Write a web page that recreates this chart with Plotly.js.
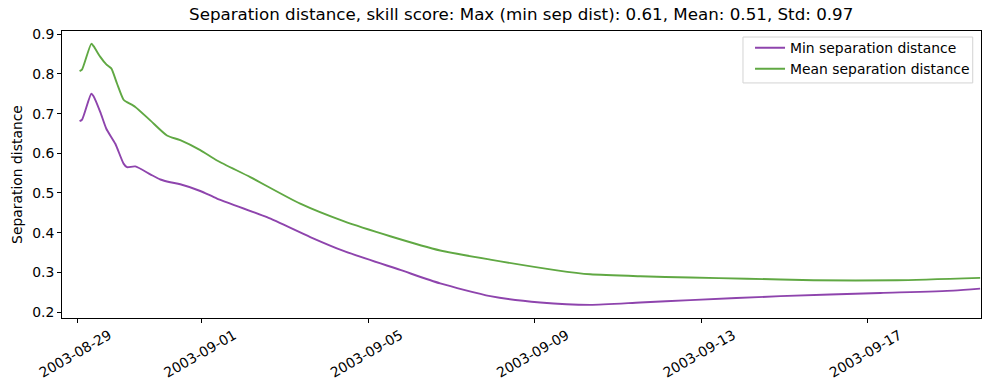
<!DOCTYPE html>
<html>
<head>
<meta charset="utf-8">
<script src="https://cdn.plot.ly/plotly-3.0.1.min.js"></script>
<style>html,body{margin:0;padding:0;background:#fff;}#chart{width:989px;height:390px;}</style>
</head>
<body>
<div id="chart"></div>
<script>
const minDates = [
  "2003-08-29 01:23","2003-08-29 02:50","2003-08-29 08:08","2003-08-29 09:27","2003-08-29 13:20",
  "2003-08-29 16:48","2003-08-29 22:00","2003-08-30 02:46","2003-08-30 04:43","2003-08-30 09:31",
  "2003-08-30 18:10","2003-08-31 00:00","2003-08-31 05:43","2003-08-31 11:28","2003-08-31 23:01",
  "2003-09-01 08:40","2003-09-02 13:30","2003-09-03 14:28","2003-09-04 09:41",
  "2003-09-05 18:24","2003-09-06 17:28","2003-09-07 22:19","2003-09-09 03:10","2003-09-10 08:01",
  "2003-09-11 12:52","2003-09-12 17:43","2003-09-14 21:45","2003-09-17 07:26","2003-09-19 01:37",
  "2003-09-19 17:00"
];
const minValues = [
  0.681,0.685,0.750,0.744,0.704,
  0.662,0.624,0.574,0.565,0.567,
  0.547,0.534,0.527,0.522,0.505,
  0.486,0.439,0.389,0.354,
  0.306,0.272,0.240,0.224,0.218,
  0.224,0.230,0.240,0.248,0.254,
  0.259
];
const meanDates = [
  "2003-08-29 01:23","2003-08-29 02:46","2003-08-29 08:08","2003-08-29 09:27","2003-08-29 13:20",
  "2003-08-29 16:48","2003-08-29 19:40","2003-08-29 22:58","2003-08-30 02:46","2003-08-30 04:43",
  "2003-08-30 09:31","2003-08-30 18:10","2003-08-31 03:48","2003-08-31 11:28","2003-08-31 23:01",
  "2003-09-01 08:40","2003-09-02 03:52","2003-09-03 08:43","2003-09-04 09:41","2003-09-05 12:37",
  "2003-09-06 17:28","2003-09-07 22:19","2003-09-09 12:49","2003-09-10 08:01","2003-09-11 12:52",
  "2003-09-12 17:43","2003-09-14 02:25","2003-09-15 16:50","2003-09-17 16:58","2003-09-19 17:00"
];
const meanValues = [
  0.807,0.811,0.876,0.870,0.843,
  0.824,0.814,0.776,0.735,0.729,
  0.717,0.683,0.645,0.633,0.608,
  0.582,0.540,0.473,0.429,0.391,
  0.355,0.332,0.305,0.295,0.290,
  0.287,0.284,0.280,0.280,0.286
];
const yTicks = [0.2,0.3,0.4,0.5,0.6,0.7,0.8,0.9];
const xTicks = ["2003-08-29","2003-09-01","2003-09-05","2003-09-09","2003-09-13","2003-09-17"];
const seriesNames = ["Min separation distance","Mean separation distance"];
const titleText = "Separation distance, skill score: Max (min sep dist): 0.61, Mean: 0.51, Std: 0.97";

const font = "DejaVu Sans, sans-serif";
const fs = 13.9;
const traces = [
  {x: minDates, y: minValues, name: seriesNames[0], mode: "lines", line: {color: "#8e44ad", width: 1.9, shape: "spline", smoothing: 0.6}},
  {x: meanDates, y: meanValues, name: seriesNames[1], mode: "lines", line: {color: "#60a843", width: 1.9, shape: "spline", smoothing: 0.6}}
];
const axisCommon = {showgrid: false, zeroline: false, showline: true, mirror: true, linecolor: "#000", linewidth: 1,
  ticks: "outside", ticklen: 4, tickwidth: 1, tickcolor: "#000", tickfont: {family: font, size: fs, color: "#000"}};
const layout = {
  width: 989, height: 390,
  margin: {l: 62, r: 8, t: 31, b: 72},
  paper_bgcolor: "#fff", plot_bgcolor: "#fff",
  title: {text: titleText, font: {family: font, size: 16.7, color: "#000"}, x: 0.527, xanchor: "center", y: 0.963, yanchor: "middle"},
  xaxis: Object.assign({}, axisCommon, {type: "date", range: ["2003-08-28 15:14", "2003-09-19 17:30"],
    tickmode: "array", tickvals: xTicks, ticktext: xTicks, tickangle: -30, ticklabelshift: 32, ticklabelstandoff: -1}),
  yaxis: Object.assign({}, axisCommon, {range: [0.1849, 0.9083], tickmode: "array", tickvals: yTicks,
    ticktext: yTicks.map(v => v.toFixed(1)),
    title: {text: "Separation distance", font: {family: font, size: fs, color: "#000"}, standoff: 6}}),
  showlegend: true,
  legend: {x: 0.9935, xanchor: "right", y: 0.996, yanchor: "top", bgcolor: "rgba(0,0,0,0)",
    bordercolor: "rgba(0,0,0,0)", borderwidth: 0, font: {family: font, size: fs, color: "#000"}, itemwidth: 30, tracegroupgap: 0},
  shapes: [{type: "rect", xref: "paper", yref: "paper", x0: 0.741, x1: 0.991, y0: 0.819, y1: 0.979,
    line: {color: "#d3d3d3", width: 1}, fillcolor: "rgba(255,255,255,0.8)", layer: "above"}]
};
Plotly.newPlot("chart", traces, layout, {displayModeBar: false, staticPlot: true});
</script>
</body>
</html>
